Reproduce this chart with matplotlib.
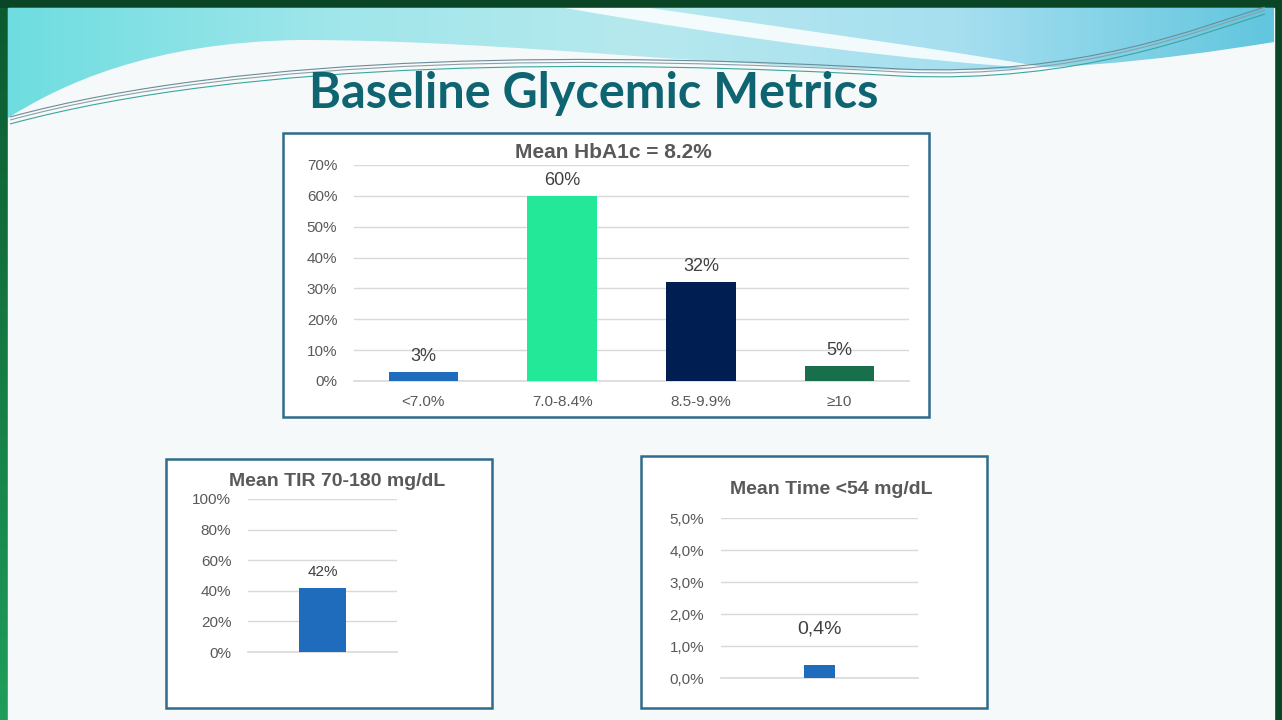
import numpy as np
import matplotlib.pyplot as plt
from matplotlib.path import Path
from matplotlib.patches import PathPatch, Rectangle
from matplotlib.colors import LinearSegmentedColormap

# Data
hba1c_cats = ["<7.0%", "7.0-8.4%", "8.5-9.9%", "≥10"]
hba1c_vals = [3, 60, 32, 5]
hba1c_colors = ["#1f6cbd", "#22e897", "#001e52", "#17704b"]
hba1c_ticks = [0, 10, 20, 30, 40, 50, 60, 70]

tir_vals = [42]
tir_ticks = [0, 20, 40, 60, 80, 100]

low_vals = [0.4]
low_ticks = [0.0, 1.0, 2.0, 3.0, 4.0, 5.0]

W, H = 1282, 720
plt.rcParams['font.family'] = ['Liberation Sans Narrow', 'Liberation Sans', 'DejaVu Sans']
fig = plt.figure(figsize=(W / 100, H / 100), dpi=100)
fig.patch.set_facecolor("#0a4526")

# background axes in pixel coordinates (decoration only)
bg = fig.add_axes([0, 0, 1, 1])
bg.set_xlim(0, W)
bg.set_ylim(H, 0)
bg.axis('off')

# green side strip on the left, dark at top, brighter at bottom
grad = np.linspace(0, 1, 100).reshape(-1, 1)
bg.imshow(grad, extent=(0, 8, H, 8), cmap=LinearSegmentedColormap.from_list(
    "g", ["#0c5a30", "#1f9d5b"]), aspect='auto', zorder=1)
bg.add_patch(Rectangle((8, 8), 1266, H - 8, color="#f6f9f9", zorder=1))

# cyan wave at top
M, C, L = Path.MOVETO, Path.CURVE4, Path.LINETO
wave = Path([(8, 8), (1274, 8), (1274, 42),
             (1150, 62), (1050, 72), (900, 70),
             (700, 66), (500, 40), (300, 40),
             (150, 42), (60, 85), (8, 118), (8, 8)],
            [M, L, L, C, C, C, C, C, C, C, C, C, L])
hgrad = np.linspace(0, 1, 300).reshape(1, -1)
cm_wave = LinearSegmentedColormap.from_list(
    "w", ["#6fdde0", "#9fe6ea", "#b6e9ee", "#a7dff0", "#62c6de"])
im = bg.imshow(hgrad, extent=(8, 1274, 120, 8), cmap=cm_wave, aspect='auto', zorder=2)
wp = PathPatch(wave, facecolor='none', edgecolor='none')
bg.add_patch(wp)
im.set_clip_path(wp)

# white swoosh
swoosh = Path([(565, 8), (650, 8), (800, 30), (950, 50), (1060, 70),
               (900, 60), (750, 40), (565, 8)],
              [M, L, C, C, C, C, C, C])
bg.add_patch(PathPatch(swoosh, facecolor="#ffffff", edgecolor='none', alpha=0.85, zorder=3))

# thin lines across the top
for dy, col in [(0, "#8f9ea8"), (4, "#3aa6a0"), (-3, "#6a8d9a")]:
    ln = Path([(10, 120 + dy), (250, 55 + dy), (600, 55 + dy), (900, 72 + dy),
               (1080, 80 + dy), (1200, 30 + dy), (1265, 10 + dy)],
              [M, C, C, C, C, C, C])
    bg.add_patch(PathPatch(ln, facecolor='none', edgecolor=col, lw=0.8, zorder=4))

fig.text(594 / W, 1 - 94 / H, "Baseline Glycemic Metrics", ha='center', va='center',
         fontsize=35, fontweight='bold', color="#0e6470", family=['Lato', 'DejaVu Sans'])

# chart frames
for x0, y0, x1, y1 in [(283, 133, 929, 417), (166, 459, 492, 708), (641, 456, 987, 708)]:
    bg.add_patch(Rectangle((x0, y0), x1 - x0, y1 - y0, facecolor="#ffffff",
                           edgecolor="#2f6b8c", lw=1.8, zorder=5))

gray = "#595959"


def make_ax(x0, x1, ytop, ybot):
    ax = fig.add_axes([x0 / W, 1 - ybot / H, (x1 - x0) / W, (ybot - ytop) / H])
    ax.set_facecolor('none')
    for s in ax.spines.values():
        s.set_visible(False)
    ax.grid(axis='y', color="#d9d9d9", lw=1)
    ax.set_axisbelow(True)
    ax.tick_params(length=0, colors=gray, labelsize=11)
    return ax


# main HbA1c chart
ax = make_ax(354, 909, 165, 381)
x = np.arange(len(hba1c_cats))
bars = ax.bar(x, hba1c_vals, width=0.5, color=hba1c_colors, zorder=3)
ax.set_xlim(-0.5, len(hba1c_cats) - 0.5)
ax.set_ylim(0, 70)
ax.axhline(0, color="#d9d9d9", lw=1.2, zorder=1, clip_on=False)
ax.set_yticks(hba1c_ticks)
ax.set_yticklabels([f"{t}%" for t in hba1c_ticks])
ax.set_xticks(x)
ax.set_xticklabels(hba1c_cats)
ax.tick_params(axis='x', pad=10)
ax.tick_params(axis='y', pad=12)
for b, v in zip(bars, hba1c_vals):
    ax.annotate(f"{v}%", (b.get_x() + b.get_width() / 2, v), xytext=(0, 5),
                textcoords='offset points', ha='center', va='bottom', fontsize=13, color="#404040")
fig.text(613 / W, 1 - 152 / H, "Mean HbA1c = 8.2%", ha='center', va='center',
         fontsize=15, fontweight='bold', color=gray)

# TIR chart
ax2 = make_ax(248, 397, 499, 652)
ax2.bar([0], tir_vals, width=0.32, color="#1f6cbd", zorder=3)
ax2.set_xlim(-0.5, 0.5)
ax2.set_ylim(0, 100)
ax2.axhline(0, color="#d9d9d9", lw=1.2, zorder=1, clip_on=False)
ax2.set_yticks(tir_ticks)
ax2.set_yticklabels([f"{t}%" for t in tir_ticks])
ax2.set_xticks([])
ax2.tick_params(axis='y', pad=12)
ax2.annotate(f"{tir_vals[0]}%", (0, tir_vals[0]), xytext=(0, 6), textcoords='offset points',
             ha='center', va='bottom', fontsize=11, color="#404040")
fig.text(337 / W, 1 - 481 / H, "Mean TIR 70-180 mg/dL", ha='center', va='center',
         fontsize=14, fontweight='bold', color=gray)

# time below 54 chart
ax3 = make_ax(721, 918, 518, 678)
ax3.bar([0], low_vals, width=0.16, color="#1f6cbd", zorder=3)
ax3.set_xlim(-0.5, 0.5)
ax3.set_ylim(0, 5)
ax3.axhline(0, color="#d9d9d9", lw=1.2, zorder=1, clip_on=False)
ax3.set_yticks(low_ticks)
ax3.set_yticklabels([f"{t:.1f}%".replace('.', ',') for t in low_ticks])
ax3.set_xticks([])
ax3.tick_params(axis='y', pad=12)
ax3.annotate(f"{low_vals[0]:.1f}%".replace('.', ','), (0, 1.27), ha='center', va='bottom',
             fontsize=14, color="#404040")
fig.text(831 / W, 1 - 490 / H, "Mean Time <54 mg/dL", ha='center', va='center',
         fontsize=14, fontweight='bold', color=gray)

fig.savefig("out.png", dpi=100, facecolor=fig.get_facecolor())
